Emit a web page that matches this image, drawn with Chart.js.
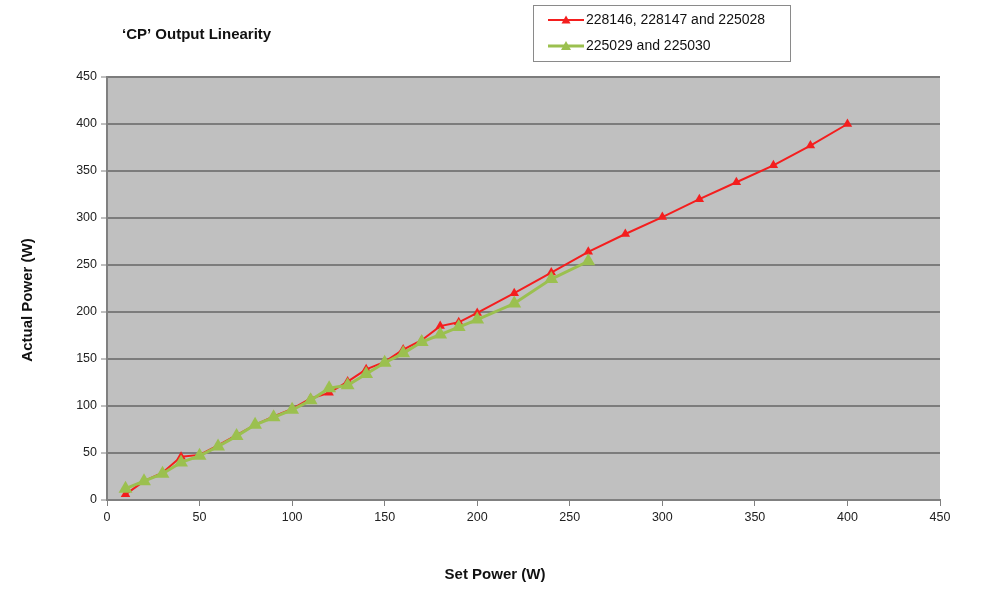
<!DOCTYPE html>
<html>
<head>
<meta charset="utf-8">
<script src="https://cdn.jsdelivr.net/npm/chart.js@4"></script>
<style>
html,body{margin:0;padding:0;background:#fff;}
#wrap{width:993px;height:602px;position:relative;}
</style>
</head>
<body>
<div id="wrap"><canvas id="c" width="993" height="602"></canvas></div>
<script>
const chartTitle = "\u2018CP\u2019 Output Linearity";
const xAxisTitle = "Set Power (W)";
const yAxisTitle = "Actual Power (W)";
const seriesNames = ["228146, 228147 and 225028", "225029 and 225030"];

const redX = [10,20,30,40,50,60,70,80,90,100,110,120,130,140,150,160,170,180,190,200,220,240,260,280,300,320,340,360,380,400];
const redY = [6,20,29,46,48,58,69,80,89,97,108,114,126,139,147,160,170,185,189,199,220,242,264,283,301,320,338,356,377,400];

const greenX = [10,20,30,40,50,60,70,80,90,100,110,120,130,140,150,160,170,180,190,200,220,240,260];
const greenY = [12,20,28,40,47,57,68,80,88,96,106,119,122,134,146,156,168,176,184,192,209,235,254];

const xTicks = [0,50,100,150,200,250,300,350,400,450];
const yTicks = [0,50,100,150,200,250,300,350,400,450];

const RED = '#f41e1e';
const GREEN = '#9bc04f';
const FONT = 'Arial, "Liberation Sans", sans-serif';

function pts(xs, ys){ return xs.map((x,i)=>({x:x,y:ys[i]})); }

const bgPlugin = {
  id:'bg',
  beforeDraw(chart){
    const {ctx, chartArea:a} = chart;
    ctx.save();
    ctx.fillStyle = '#c0c0c0';
    ctx.fillRect(a.left, a.top, a.right-a.left, a.bottom-a.top);
    ctx.restore();
  }
};

const extrasPlugin = {
  id:'extras',
  afterDraw(chart){
    const ctx = chart.ctx;
    ctx.save();
    // title
    ctx.fillStyle = '#111';
    ctx.font = 'bold 15px ' + FONT;
    ctx.textBaseline = 'middle';
    ctx.textAlign = 'left';
    ctx.fillText(chartTitle, 122, 35);
    // axis titles
    ctx.textAlign = 'center';
    ctx.fillText(xAxisTitle, 495, 575);
    ctx.save();
    ctx.translate(28, 300);
    ctx.rotate(-Math.PI/2);
    ctx.fillText(yAxisTitle, 0, 0);
    ctx.restore();
    // legend box
    ctx.strokeStyle = '#8a8a8a';
    ctx.lineWidth = 1;
    ctx.fillStyle = '#fff';
    ctx.fillRect(533.5, 5.5, 257, 56);
    ctx.strokeRect(533.5, 5.5, 257, 56);
    const rows = [
      {name: seriesNames[0], color: RED, y: 20, r: 4.5, lw: 2},
      {name: seriesNames[1], color: GREEN, y: 46, r: 5, lw: 3}
    ];
    rows.forEach(row=>{
      ctx.strokeStyle = row.color;
      ctx.lineWidth = row.lw;
      ctx.beginPath();
      ctx.moveTo(548, row.y);
      ctx.lineTo(584, row.y);
      ctx.stroke();
      // triangle
      ctx.fillStyle = row.color;
      ctx.beginPath();
      const cx = 566, r = row.r;
      ctx.moveTo(cx, row.y - r);
      ctx.lineTo(cx + r, row.y + r*0.8);
      ctx.lineTo(cx - r, row.y + r*0.8);
      ctx.closePath();
      ctx.fill();
      ctx.fillStyle = '#111';
      ctx.font = '14px ' + FONT;
      ctx.textAlign = 'left';
      ctx.fillText(row.name, 586, row.y);
    });
    ctx.restore();
  }
};

new Chart(document.getElementById('c'), {
  type: 'line',
  data: {
    datasets: [
      {
        label: seriesNames[0],
        data: pts(redX, redY),
        borderColor: RED,
        backgroundColor: RED,
        borderWidth: 2,
        pointStyle: 'triangle',
        pointRadius: 5.5,
        pointBorderWidth: 0,
        tension: 0,
        order: 1
      },
      {
        label: seriesNames[1],
        data: pts(greenX, greenY),
        borderColor: GREEN,
        backgroundColor: GREEN,
        borderWidth: 3,
        pointStyle: 'triangle',
        pointRadius: 8,
        pointBorderWidth: 0,
        tension: 0,
        order: 0
      }
    ]
  },
  options: {
    responsive: false,
    animation: false,
    layout: { padding: { left: 0, top: 77, right: 53, bottom: 0 } },
    plugins: { legend: { display: false }, title: { display: false }, tooltip: { enabled: false } },
    scales: {
      x: {
        type: 'linear',
        min: 0, max: 450,
        afterBuildTicks(scale){ scale.ticks = xTicks.map(v=>({value:v})); },
        afterFit(scale){ scale.height = 102; },
        ticks: { color: '#222', font: { family: FONT, size: 12.5 }, padding: 4, maxRotation: 0 },
        grid: { display: true, drawOnChartArea: false, drawTicks: true, tickLength: 6, tickColor: '#808080', tickWidth: 1 },
        border: { display: true, color: '#808080', width: 2 },
        title: { display: false }
      },
      y: {
        type: 'linear',
        min: 0, max: 450,
        afterBuildTicks(scale){ scale.ticks = yTicks.map(v=>({value:v})); },
        afterFit(scale){ scale.width = 107; },
        ticks: { color: '#222', font: { family: FONT, size: 12.5 }, padding: 4 },
        grid: { display: true, color: '#7c7c7c', lineWidth: 2, drawTicks: true, tickLength: 6, tickColor: '#808080', tickWidth: 1 },
        border: { display: true, color: '#808080', width: 2 },
        title: { display: false }
      }
    }
  },
  plugins: [bgPlugin, extrasPlugin]
});
</script>
</body>
</html>
